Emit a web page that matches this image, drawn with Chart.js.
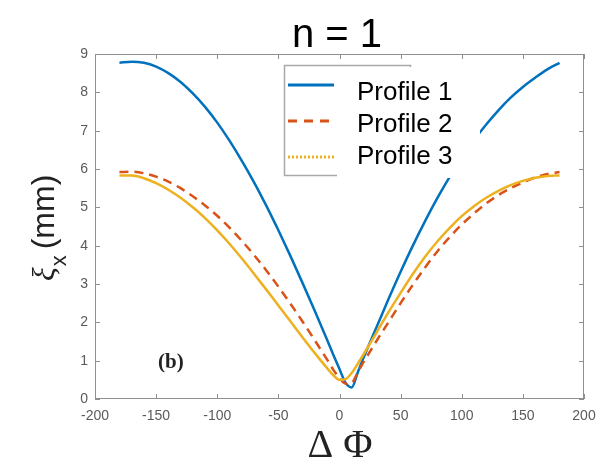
<!DOCTYPE html>
<html lang="en">
<head>
  <meta charset="UTF-8">
  <title>n = 1</title>
  <script src="https://cdn.jsdelivr.net/npm/chart.js"></script>
  <style>
    body { margin: 0; background: #fff; }
    #wrap { width: 609px; height: 470px; }
  </style>
</head>
<body>
  <div id="wrap"><canvas id="chart" width="609" height="470"></canvas></div>

  <script>
    // phase difference (deg)
    const phi = [-180, -170, -160, -150, -140, -130, -120, -110, -100, -90,
                 -80, -70, -60, -50, -40, -30, -20, -10, -5, 0,
                 5, 10, 15, 20, 30, 40, 50, 60, 70, 80,
                 90, 100, 110, 120, 130, 140, 150, 160, 170, 180];

    // xi_x (mm)
    const profile1 = [8.77, 8.80, 8.77, 8.67, 8.50, 8.27, 7.97, 7.62, 7.21, 6.74,
                      6.22, 5.66, 5.05, 4.40, 3.72, 3.01, 2.28, 1.53, 1.15, 0.78,
                      0.42, 0.30, 0.70, 1.10, 1.85, 2.60, 3.32, 4.00, 4.64, 5.24,
                      5.79, 6.29, 6.75, 7.16, 7.53, 7.86, 8.14, 8.38, 8.60, 8.77];
    const profile2 = [5.92, 5.93, 5.89, 5.80, 5.67, 5.50, 5.29, 5.05, 4.78, 4.47,
                      4.13, 3.76, 3.36, 2.93, 2.48, 2.01, 1.52, 1.02, 0.76, 0.55,
                      0.40, 0.42, 0.70, 0.98, 1.50, 2.00, 2.50, 2.98, 3.43, 3.85,
                      4.22, 4.55, 4.84, 5.10, 5.32, 5.50, 5.65, 5.78, 5.87, 5.92];
    const profile3 = [5.83, 5.83, 5.76, 5.63, 5.46, 5.25, 5.00, 4.72, 4.40, 4.05,
                      3.67, 3.27, 2.86, 2.44, 2.02, 1.60, 1.19, 0.80, 0.62, 0.50,
                      0.52, 0.68, 0.92, 1.18, 1.72, 2.26, 2.77, 3.26, 3.71, 4.11,
                      4.46, 4.77, 5.03, 5.25, 5.43, 5.58, 5.69, 5.77, 5.82, 5.83];

    const seriesNames = ['Profile 1', 'Profile 2', 'Profile 3'];
    const seriesColors = ['#0072BD', '#D95319', '#EDB120'];

    const sans = '"Liberation Sans", Arial, sans-serif';
    const serif = '"Liberation Serif", "Times New Roman", serif';

    const toPoints = ys => phi.map((x, i) => ({ x, y: ys[i] }));

    // frame, inward ticks, titles, panel tag and the legend
    const decor = {
      id: 'decor',
      afterDatasetsDraw(chart) {
        const { ctx, chartArea: a, scales } = chart;
        ctx.save();

        // box with inward ticks on all four sides
        ctx.strokeStyle = '#8f8f8f';
        ctx.lineWidth = 1;
        ctx.strokeRect(a.left + 0.5, a.top + 0.5, a.right - a.left - 1, a.bottom - a.top - 1);
        ctx.beginPath();
        scales.x.ticks.forEach(t => {
          const px = Math.round(scales.x.getPixelForValue(t.value)) + 0.5;
          ctx.moveTo(px, a.bottom); ctx.lineTo(px, a.bottom - 5);
          ctx.moveTo(px, a.top); ctx.lineTo(px, a.top + 5);
        });
        scales.y.ticks.forEach(t => {
          const py = Math.round(scales.y.getPixelForValue(t.value)) + 0.5;
          ctx.moveTo(a.left, py); ctx.lineTo(a.left + 5, py);
          ctx.moveTo(a.right, py); ctx.lineTo(a.right - 5, py);
        });
        ctx.stroke();

        // panel tag
        ctx.fillStyle = '#222';
        ctx.font = 'bold 21px ' + serif;
        ctx.textAlign = 'center';
        ctx.textBaseline = 'middle';
        ctx.fillText('(b)', scales.x.getPixelForValue(-138), scales.y.getPixelForValue(0.94));

        // title
        ctx.fillStyle = '#000';
        ctx.font = '40px ' + sans;
        ctx.textBaseline = 'alphabetic';
        ctx.fillText('n = 1', 337, 47);

        // x axis title
        ctx.font = '40px ' + serif;
        ctx.fillStyle = '#222';
        ctx.fillText('\u0394 \u03A6', 340, 457);

        // y axis title, rotated
        ctx.save();
        ctx.translate(54, 226);
        ctx.rotate(-Math.PI / 2);
        ctx.textAlign = 'left';
        let u = -55;
        ctx.font = 'italic 32px ' + serif;
        ctx.fillText('\u03BE', u, 0);
        u += ctx.measureText('\u03BE').width + 1;
        ctx.font = '22px ' + sans;
        ctx.fillText('x', u, 12);
        u += ctx.measureText('x').width + 6;
        ctx.font = '32px ' + sans;
        ctx.fillText('(mm)', u, 0);
        ctx.restore();

        // legend box
        ctx.fillStyle = '#fff';
        ctx.fillRect(284, 65, 126, 110);
        ctx.strokeStyle = '#a8a8a8';
        ctx.lineWidth = 1.5;
        ctx.strokeRect(284.5, 65.5, 126, 110);

        const sampleY = [85, 121, 157];
        const dashes = [[], [9, 7], [2, 2]];
        sampleY.forEach((y, i) => {
          ctx.beginPath();
          ctx.setLineDash(dashes[i]);
          ctx.strokeStyle = seriesColors[i];
          ctx.lineWidth = 3;
          ctx.moveTo(288, y);
          ctx.lineTo(334, y);
          ctx.stroke();
        });
        ctx.setLineDash([]);

        // white label panel pasted over the legend
        ctx.fillStyle = '#fff';
        ctx.fillRect(337, 67, 143, 111);
        ctx.fillStyle = '#000';
        ctx.font = '26px ' + sans;
        ctx.textAlign = 'left';
        ctx.textBaseline = 'middle';
        const labelY = [93, 125, 157];
        seriesNames.forEach((name, i) => ctx.fillText(name, 357, labelY[i]));

        ctx.restore();
      }
    };

    const ctx = document.getElementById('chart').getContext('2d');
    new Chart(ctx, {
      type: 'line',
      data: {
        datasets: [
          { label: seriesNames[0], data: toPoints(profile1), borderColor: seriesColors[0],
            borderWidth: 2.5, order: 3 },
          { label: seriesNames[1], data: toPoints(profile2), borderColor: seriesColors[1],
            borderWidth: 2.5, borderDash: [9, 6], order: 2 },
          { label: seriesNames[2], data: toPoints(profile3), borderColor: seriesColors[2],
            borderWidth: 2.5, order: 1 }
        ]
      },
      options: {
        responsive: false,
        animation: false,
        elements: {
          point: { radius: 0 },
          line: { cubicInterpolationMode: 'monotone', fill: false }
        },
        layout: { padding: { left: 0, right: 25, top: 54, bottom: 0 } },
        plugins: {
          legend: { display: false },
          tooltip: { enabled: false }
        },
        scales: {
          x: {
            type: 'linear',
            min: -200,
            max: 200,
            ticks: { stepSize: 50, color: '#5a5a5a', font: { family: sans, size: 14 }, padding: 9, maxRotation: 0 },
            grid: { display: false, drawTicks: false },
            border: { display: false },
            afterFit(s) { s.height = 71; }
          },
          y: {
            min: 0,
            max: 9,
            ticks: { stepSize: 1, color: '#5a5a5a', font: { family: sans, size: 14 }, padding: 7 },
            grid: { display: false, drawTicks: false },
            border: { display: false },
            afterFit(s) { s.width = 95; }
          }
        }
      },
      plugins: [decor]
    });
  </script>
</body>
</html>
